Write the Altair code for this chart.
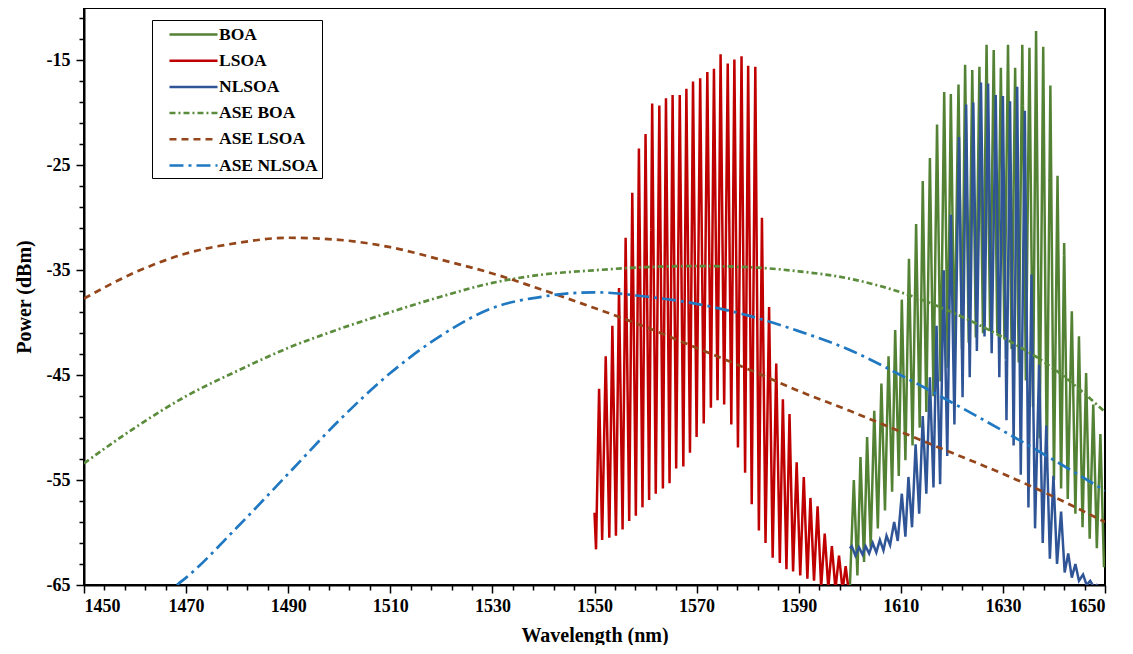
import altair as alt
import pandas as pd

# ---------------- data ----------------
series_names = ["BOA", "LSOA", "NLSOA", "ASE BOA", "ASE LSOA", "ASE NLSOA"]

# LSOA comb spectrum: start points, then alternating peaks / troughs
lsoa_start_wl = [1550.0, 1550.3]
lsoa_start_db = [-58.1, -61.6]
lsoa_peak_wl = [1550.9, 1552.2, 1553.5, 1554.8, 1556.1, 1557.4, 1558.7, 1560.0, 1561.3, 1562.7,
                1564.0, 1565.3, 1566.7, 1568.0, 1569.3, 1570.7, 1572.1, 1573.4, 1574.7, 1576.1,
                1577.4, 1578.8, 1580.1, 1581.5, 1582.8, 1584.2, 1585.6, 1586.9, 1588.2, 1589.6,
                1591.0, 1592.3, 1593.7, 1595.1, 1596.5, 1597.9, 1599.2]
lsoa_peak_db = [-46.3, -43.2, -40.3, -36.7, -31.9, -27.6, -23.4, -22.0, -19.1, -19.3,
                -18.6, -18.3, -18.3, -17.7, -17.0, -16.7, -16.1, -15.8, -14.4, -15.3,
                -14.9, -14.6, -15.5, -15.6, -30.0, -38.5, -43.9, -47.3, -48.7, -53.3,
                -54.7, -56.7, -57.5, -60.1, -61.3, -62.2, -63.2]
lsoa_trough_wl = [1551.5, 1552.9, 1554.2, 1555.5, 1556.8, 1558.1, 1559.4, 1560.7, 1562.0, 1563.4,
                  1564.7, 1566.0, 1567.4, 1568.7, 1570.0, 1571.4, 1572.8, 1574.1, 1575.4, 1576.8,
                  1578.1, 1579.5, 1580.8, 1582.2, 1583.5, 1584.9, 1586.3, 1587.6, 1588.9, 1590.3,
                  1591.7, 1593.0, 1594.4, 1595.8, 1597.2, 1598.6, 1599.9]
lsoa_trough_db = [-60.7, -60.5, -60.3, -59.7, -58.9, -58.4, -57.6, -56.9, -56.3, -55.8,
                  -55.3, -53.9, -53.7, -52.4, -50.9, -49.6, -48.1, -47.4, -47.8, -49.7,
                  -51.9, -54.3, -57.3, -59.8, -61.0, -62.4, -62.9, -63.5, -63.7, -64.1,
                  -64.4, -64.6, -65.2, -65.3, -65.4, -65.5, -66.0]

# BOA comb spectrum
boa_start_wl = [1600.0]
boa_start_db = [-65.5]
boa_peak_wl = [1600.8, 1602.1, 1603.4, 1604.8, 1606.2, 1607.6, 1608.9, 1610.2, 1611.6, 1613.0,
               1614.3, 1615.7, 1617.1, 1618.5, 1619.8, 1621.3, 1622.6, 1624.0, 1625.4, 1626.8,
               1628.2, 1629.6, 1631.0, 1632.4, 1633.8, 1635.2, 1636.5, 1637.9, 1639.3, 1640.7,
               1642.0, 1643.5, 1644.9, 1646.3, 1647.7, 1649.1]
boa_peak_db = [-55.0, -52.8, -50.9, -48.4, -45.8, -43.2, -40.7, -37.8, -33.9, -30.6,
               -26.5, -24.3, -21.1, -18.0, -18.2, -17.3, -15.4, -15.9, -15.6, -13.5,
               -14.0, -15.7, -13.5, -15.7, -13.5, -13.8, -12.2, -13.7, -17.4, -26.0,
               -32.4, -38.9, -41.3, -44.8, -47.8, -50.6]
boa_trough_wl = [1601.5, 1602.8, 1604.1, 1605.5, 1606.9, 1608.3, 1609.6, 1610.9, 1612.3, 1613.7,
                 1615.0, 1616.4, 1617.8, 1619.2, 1620.5, 1622.0, 1623.3, 1624.7, 1626.1, 1627.5,
                 1628.9, 1630.3, 1631.7, 1633.1, 1634.5, 1635.9, 1637.2, 1638.6, 1640.0, 1641.4,
                 1642.7, 1644.2, 1645.6, 1647.0, 1648.4, 1649.8]
boa_trough_db = [-64.1, -62.8, -61.4, -59.6, -57.9, -56.1, -54.6, -53.1, -51.7, -50.0,
                 -48.5, -47.0, -45.6, -44.3, -43.3, -42.5, -41.9, -41.4, -41.0, -40.8,
                 -41.0, -41.6, -42.5, -43.8, -45.5, -48.0, -51.0, -53.8, -55.0, -55.8,
                 -56.8, -58.2, -59.5, -60.6, -61.5, -63.3]

# NLSOA comb spectrum
nlsoa_start_wl = [1600.0]
nlsoa_start_db = [-61.5]
nlsoa_peak_wl = [1600.4, 1601.8, 1603.1, 1604.5, 1605.9, 1607.2, 1608.7, 1610.2, 1611.5, 1612.9,
                 1614.3, 1615.7, 1617.0, 1618.4, 1619.8, 1621.4, 1622.8, 1624.2, 1625.7, 1627.1,
                 1628.6, 1630.0, 1631.4, 1632.8, 1634.3, 1635.6, 1637.1, 1638.5, 1639.9, 1641.4,
                 1642.8, 1644.2, 1645.7, 1647.1, 1648.4, 1649.8]
nlsoa_peak_db = [-61.3, -61.4, -61.3, -61.0, -60.7, -60.3, -59.0, -56.3, -54.7, -51.6,
                 -48.9, -45.2, -40.3, -35.0, -29.7, -22.3, -19.2, -19.0, -17.1, -17.2,
                 -18.3, -18.4, -18.9, -17.5, -19.8, -35.4, -44.0, -49.8, -54.6, -58.0,
                 -62.0, -63.0, -64.0, -64.6, -65.0, -65.2]
nlsoa_trough_wl = [1601.1, 1602.5, 1603.8, 1605.2, 1606.6, 1607.9, 1609.4, 1610.9, 1612.2, 1613.6,
                   1615.0, 1616.4, 1617.7, 1619.1, 1620.5, 1622.1, 1623.5, 1624.9, 1626.4, 1627.8,
                   1629.3, 1630.7, 1632.1, 1633.5, 1635.0, 1636.3, 1637.8, 1639.2, 1640.6, 1642.1,
                   1643.5, 1644.9, 1646.4, 1647.8, 1649.1, 1650.0]
nlsoa_trough_db = [-62.2, -62.1, -62.0, -61.9, -61.7, -61.2, -60.8, -60.4, -59.5, -58.2,
                   -56.3, -55.7, -55.4, -52.7, -49.7, -47.1, -45.2, -42.7, -41.3, -42.9,
                   -45.2, -49.3, -51.7, -54.5, -57.6, -59.6, -61.0, -62.5, -63.0, -63.8,
                   -64.3, -64.6, -65.0, -65.2, -65.3, -65.4]

# ASE curves
ase_wl = [1450, 1460, 1470, 1480, 1490, 1500, 1510, 1520, 1530, 1540, 1550,
          1560, 1570, 1580, 1590, 1600, 1610, 1620, 1630, 1640, 1650]
ase_boa_db = [-53.4, -50.0, -47.0, -44.6, -42.4, -40.6, -39.0, -37.5, -36.2, -35.4, -35.0,
              -34.7, -34.6, -34.7, -35.1, -35.8, -37.1, -39.0, -41.4, -44.4, -48.5]
ase_lsoa_db = [-37.7, -35.2, -33.4, -32.4, -31.9, -32.1, -32.8, -34.0, -35.3, -36.9, -38.6,
               -40.4, -42.4, -44.4, -46.5, -48.4, -50.4, -52.4, -54.4, -56.6, -59.0]
ase_nlsoa_wl = [1468.2, 1470, 1480, 1490, 1500, 1510, 1520, 1530, 1540, 1550,
                1560, 1570, 1580, 1590, 1600, 1610, 1620, 1630, 1640, 1650]
ase_nlsoa_db = [-65.0, -64.3, -59.5, -54.4, -49.3, -44.8, -41.2, -38.6, -37.5, -37.1,
                -37.5, -38.2, -39.3, -40.8, -42.6, -45.0, -47.6, -50.3, -53.1, -56.0]

x_ticks = list(range(1450, 1651, 4))
y_ticks = list(range(-65, -9, 2))


def comb(start_wl, start_db, pk_wl, pk_db, tr_wl, tr_db):
    wl, db = list(start_wl), list(start_db)
    for a, b, c, d in zip(pk_wl, pk_db, tr_wl, tr_db):
        wl += [a, c]
        db += [b, d]
    return wl, db


frames = []
for name, (wl, db) in {
    "BOA": comb(boa_start_wl, boa_start_db, boa_peak_wl, boa_peak_db, boa_trough_wl, boa_trough_db),
    "LSOA": comb(lsoa_start_wl, lsoa_start_db, lsoa_peak_wl, lsoa_peak_db, lsoa_trough_wl, lsoa_trough_db),
    "NLSOA": comb(nlsoa_start_wl, nlsoa_start_db, nlsoa_peak_wl, nlsoa_peak_db, nlsoa_trough_wl, nlsoa_trough_db),
    "ASE BOA": (ase_wl, ase_boa_db),
    "ASE LSOA": (ase_wl, ase_lsoa_db),
    "ASE NLSOA": (ase_nlsoa_wl, ase_nlsoa_db),
}.items():
    frames.append(pd.DataFrame({"wl": wl, "power": db, "series": name, "idx": range(len(wl))}))
df = pd.concat(frames, ignore_index=True)

# ---------------- styling ----------------
colors = ["#548235", "#C00000", "#2F5597", "#5A8C3C", "#94461A", "#1F78C1"]
dashes = [[1, 0], [1, 0], [1, 0], [6, 3, 2, 3], [7, 5], [14, 5, 3, 5]]
FONT = "Liberation Serif"

legend = alt.Legend(
    title=None, orient="none", legendX=68, legendY=12,
    symbolType="M0.33,0L5.67,0", symbolSize=324, symbolStrokeWidth=2.5,
    labelFont=FONT, labelFontWeight="bold", labelFontSize=17.5, labelColor="black",
    strokeColor="black", fillColor="white", padding=4, rowPadding=7.2, labelOffset=42,
)

x_axis = alt.Axis(
    values=x_ticks, title="Wavelength (nm)",
    labelExpr="(datum.value - 1450) % 20 == 0 ? '' + datum.value : ''",
    tickSize={"condition": {"test": "(datum.value - 1450) % 20 == 0", "value": 8}, "value": 5},
    labelPadding=4, titlePadding=10,
)
y_axis = alt.Axis(
    values=y_ticks, title="Power (dBm)",
    labelExpr="abs(datum.value % 10) == 5 ? '' + datum.value : ''",
    tickSize={"condition": {"test": "abs(datum.value % 10) == 5", "value": 8}, "value": 5},
    labelPadding=6, titlePadding=12,
)

x_enc = alt.X("wl:Q", scale=alt.Scale(domain=[1450, 1650], nice=False, zero=False), axis=x_axis)
y_enc = alt.Y("power:Q", scale=alt.Scale(domain=[-65, -10], nice=False, zero=False), axis=y_axis)
c_enc = alt.Color("series:N", scale=alt.Scale(domain=series_names, range=colors), legend=legend)
d_enc = alt.StrokeDash("series:N", scale=alt.Scale(domain=series_names, range=dashes), legend=legend)

layers = []
for name in series_names:
    is_ase = name.startswith("ASE")
    layers.append(
        alt.Chart(df[df.series == name])
        .mark_line(clip=True, strokeWidth=2.7 if is_ase else 2.5,
                   interpolate="monotone" if is_ase else "linear")
        .encode(x=x_enc, y=y_enc, color=c_enc, strokeDash=d_enc, order="idx:Q")
    )

chart = (
    alt.layer(*layers)
    .properties(
        width=1021, height=577, background="white",
        autosize=alt.AutoSizeParams(type="none"),
        padding={"left": 76, "top": 0, "right": 16, "bottom": 60},
    )
    .configure_view(stroke="black", strokeWidth=2)
    .configure_axis(
        grid=False, domainColor="black", domainWidth=2, tickColor="black", tickWidth=1.5,
        labelFont=FONT, labelFontWeight="bold", labelFontSize=18, labelColor="black",
        titleFont=FONT, titleFontWeight="bold", titleFontSize=20, titleColor="black",
    )
)

chart.save("out.html", embed_options={"renderer": "svg", "actions": False})
